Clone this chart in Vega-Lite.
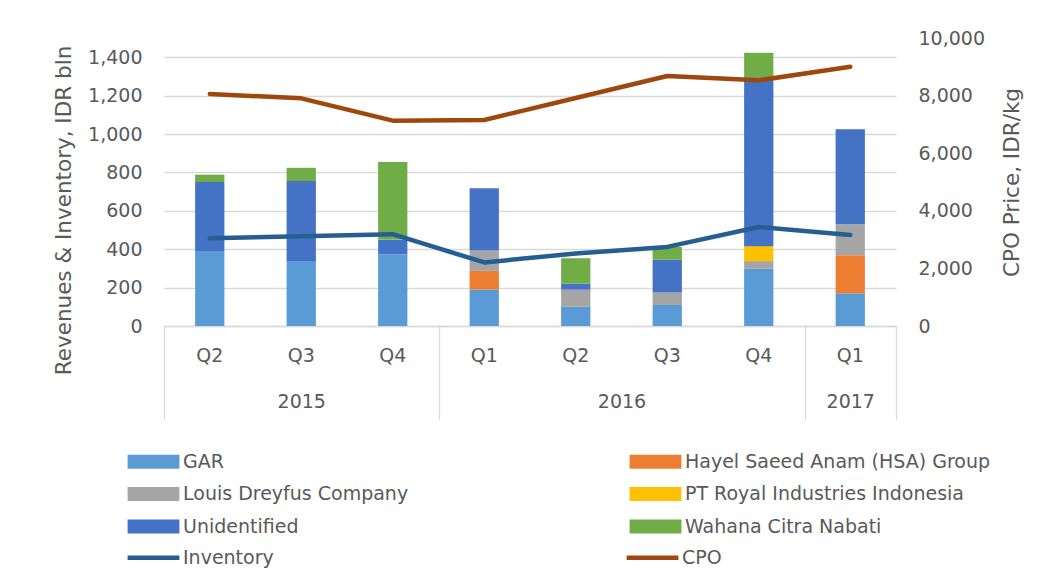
{
  "$schema": "https://vega.github.io/schema/vega-lite/v6.json",
  "width": 732,
  "height": 288,
  "autosize": {"type": "none"},
  "padding": {"left": 164, "top": 38, "right": 164, "bottom": 255},
  "background": "white",
  "config": {
    "font": "DejaVu Sans",
    "view": {"stroke": null},
    "axis": {"labelColor": "#595959", "titleColor": "#595959", "labelFont": "DejaVu Sans", "titleFont": "DejaVu Sans", "titleFontWeight": "normal"},
    "legend": {
      "orient": "none", "columns": 2, "title": null, "labelLimit": 500,
      "labelFontSize": 19, "labelColor": "#595959", "labelFont": "DejaVu Sans",
      "symbolSize": 196, "labelOffset": 20, "rowPadding": 12.5, "padding": 0
    }
  },
  "datasets": {
    "revenues": [
      {"period": "2015-Q2", "company": "GAR", "value": 391},
      {"period": "2015-Q2", "company": "Unidentified", "value": 359},
      {"period": "2015-Q2", "company": "Wahana Citra Nabati", "value": 38},
      {"period": "2015-Q3", "company": "GAR", "value": 338},
      {"period": "2015-Q3", "company": "Unidentified", "value": 417},
      {"period": "2015-Q3", "company": "Wahana Citra Nabati", "value": 69},
      {"period": "2015-Q4", "company": "GAR", "value": 374},
      {"period": "2015-Q4", "company": "Unidentified", "value": 76},
      {"period": "2015-Q4", "company": "Wahana Citra Nabati", "value": 404},
      {"period": "2016-Q1", "company": "GAR", "value": 190},
      {"period": "2016-Q1", "company": "Hayel Saeed Anam (HSA) Group", "value": 97},
      {"period": "2016-Q1", "company": "Louis Dreyfus Company", "value": 106},
      {"period": "2016-Q1", "company": "Unidentified", "value": 324},
      {"period": "2016-Q2", "company": "GAR", "value": 100},
      {"period": "2016-Q2", "company": "Louis Dreyfus Company", "value": 89},
      {"period": "2016-Q2", "company": "Unidentified", "value": 31},
      {"period": "2016-Q2", "company": "Wahana Citra Nabati", "value": 133},
      {"period": "2016-Q3", "company": "GAR", "value": 109},
      {"period": "2016-Q3", "company": "Louis Dreyfus Company", "value": 66},
      {"period": "2016-Q3", "company": "Unidentified", "value": 170},
      {"period": "2016-Q3", "company": "Wahana Citra Nabati", "value": 67},
      {"period": "2016-Q4", "company": "GAR", "value": 298},
      {"period": "2016-Q4", "company": "Louis Dreyfus Company", "value": 40},
      {"period": "2016-Q4", "company": "PT Royal Industries Indonesia", "value": 78},
      {"period": "2016-Q4", "company": "Unidentified", "value": 879},
      {"period": "2016-Q4", "company": "Wahana Citra Nabati", "value": 128},
      {"period": "2017-Q1", "company": "GAR", "value": 171},
      {"period": "2017-Q1", "company": "Hayel Saeed Anam (HSA) Group", "value": 198},
      {"period": "2017-Q1", "company": "Louis Dreyfus Company", "value": 161},
      {"period": "2017-Q1", "company": "Unidentified", "value": 495}
    ],
    "prices": [
      {"period": "2015-Q2", "inventory": 457, "cpo": 8055},
      {"period": "2015-Q3", "inventory": 467, "cpo": 7905},
      {"period": "2015-Q4", "inventory": 478, "cpo": 7130},
      {"period": "2016-Q1", "inventory": 331, "cpo": 7153},
      {"period": "2016-Q2", "inventory": 378, "cpo": 7916},
      {"period": "2016-Q3", "inventory": 412, "cpo": 8680},
      {"period": "2016-Q4", "inventory": 516, "cpo": 8530},
      {"period": "2017-Q1", "inventory": 474, "cpo": 9004}
    ],
    "years": [
      {"year": "2015", "start": 0, "end": 3},
      {"year": "2016", "start": 3, "end": 7},
      {"year": "2017", "start": 7, "end": 8}
    ]
  },
  "layer": [
    {
      "data": {"name": "revenues"},
      "mark": {"type": "bar"},
      "encoding": {
        "x": {"field": "period", "type": "ordinal", "sort": "ascending",
          "scale": {"paddingInner": 0.68, "paddingOuter": 0.34},
          "axis": {"title": null, "labelExpr": "substring(datum.value, 5)", "ticks": false, "domainColor": "#d9d9d9", "domainWidth": 1.3, "labelFontSize": 19, "labelPadding": 20, "labelAngle": 0}},
        "y": {"field": "value", "type": "quantitative", "stack": "zero",
          "scale": {"domain": [0, 1500], "nice": false},
          "axis": {"title": "Revenues & Inventory, IDR bln", "values": [0, 200, 400, 600, 800, 1000, 1200, 1400], "format": ",.0f",
            "grid": true, "gridColor": "#d9d9d9", "gridWidth": 1.3, "domain": false, "ticks": false,
            "labelPadding": 22, "labelFontSize": 19, "titleFontSize": 21.5, "titleX": -100, "titleY": 172, "titleBaseline": "middle", "titleAlign": "center", "titleAngle": 270}},
        "color": {"field": "company", "type": "nominal",
          "scale": {
            "domain": ["GAR", "Louis Dreyfus Company", "Unidentified", "Hayel Saeed Anam (HSA) Group", "PT Royal Industries Indonesia", "Wahana Citra Nabati"],
            "range": ["#5B9BD5", "#A5A5A5", "#4472C4", "#ED7D31", "#FFC000", "#70AD47"]
          },
          "legend": {"legendX": -20, "legendY": 414, "columnPadding": 220, "symbolType": "M-3.7,-1H3.7V1H-3.7Z", "symbolStrokeWidth": 0}},
        "order": {"field": "company", "sort": "ascending"}
      }
    },
    {
      "data": {"name": "prices"},
      "mark": {"type": "line", "strokeWidth": 4.5, "strokeCap": "round", "strokeJoin": "round"},
      "encoding": {
        "x": {"field": "period", "type": "ordinal", "sort": "ascending", "axis": null},
        "y": {"field": "inventory", "type": "quantitative", "scale": {"domain": [0, 1500], "nice": false}, "axis": null},
        "stroke": {"datum": "Inventory", "type": "nominal",
          "scale": {"domain": ["Inventory", "CPO"], "range": ["#255E91", "#9E480E"]},
          "legend": {"legendX": -20, "legendY": 510, "columnPadding": 343, "symbolType": "M-3.7,0H3.7", "symbolStrokeWidth": 4.5}}
      }
    },
    {
      "data": {"name": "prices"},
      "mark": {"type": "line", "strokeWidth": 4.5, "strokeCap": "round", "strokeJoin": "round"},
      "encoding": {
        "x": {"field": "period", "type": "ordinal", "sort": "ascending", "axis": null},
        "y": {"field": "cpo", "type": "quantitative",
          "scale": {"domain": [0, 10000], "nice": false},
          "axis": {"orient": "right", "title": "CPO Price, IDR/kg", "values": [0, 2000, 4000, 6000, 8000, 10000], "format": ",.0f",
            "grid": false, "domain": false, "ticks": false, "labelPadding": 22, "labelFontSize": 19,
            "titleFontSize": 21.5, "titleAngle": 270, "titleX": 116, "titleY": 144, "titleBaseline": "middle", "titleAlign": "center"}},
        "stroke": {"datum": "CPO", "type": "nominal"}
      }
    },
    {
      "data": {"name": "years"},
      "mark": {"type": "rect", "opacity": 0},
      "encoding": {
        "x": {"field": "start", "type": "quantitative",
          "scale": {"domain": [0, 8], "nice": false, "zero": false},
          "axis": {"orient": "bottom", "title": null, "values": [0, 3, 7, 8], "labels": false,
            "grid": false, "domain": false, "ticks": true, "tickSize": 93, "tickWidth": 1.3, "tickColor": "#d9d9d9"}},
        "x2": {"field": "end"}
      }
    },
    {
      "data": {"name": "years"},
      "mark": {"type": "rect", "opacity": 0},
      "encoding": {
        "x": {"field": "start", "type": "quantitative",
          "scale": {"domain": [0, 8], "nice": false, "zero": false},
          "axis": {"orient": "bottom", "title": null, "values": [1.5, 5, 7.5],
            "labelExpr": "datum.value == 1.5 ? '2015' : datum.value == 5 ? '2016' : '2017'",
            "grid": false, "domain": false, "ticks": false,
            "labelPadding": 66, "labelFontSize": 19, "labelFlush": false, "labelOverlap": false, "labelBound": false}},
        "x2": {"field": "end"}
      }
    }
  ],
  "resolve": {"scale": {"x": "independent", "y": "independent"}}
}
